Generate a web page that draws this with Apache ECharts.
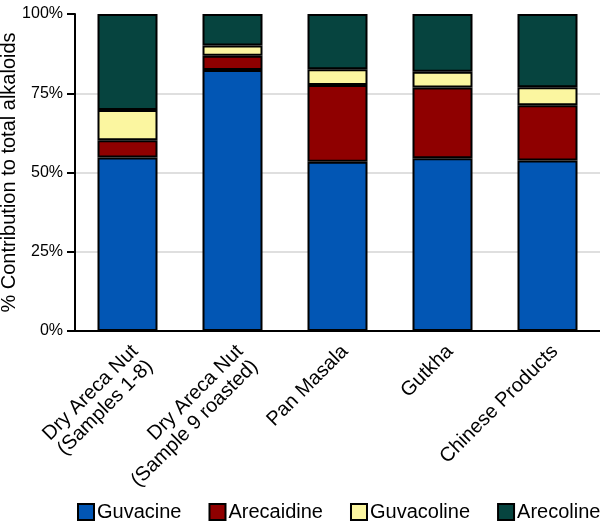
<!DOCTYPE html>
<html>
<head>
<meta charset="utf-8">
<script src="https://cdn.jsdelivr.net/npm/echarts@6/dist/echarts.min.js"></script>
<style>
  html, body { margin: 0; padding: 0; background: #fff; }
  #chart { width: 600px; height: 522px; }
</style>
</head>
<body>
<div id="chart"></div>
<script>
var categories = [
  "Dry Areca Nut\n(Samples 1-8)",
  "Dry Areca Nut\n(Sample 9 roasted)",
  "Pan Masala",
  "Gutkha",
  "Chinese Products"
];
var guvacine = [54.7, 82.3, 53.4, 54.5, 53.8];
var arecaidine = [5.5, 4.5, 24.2, 22.3, 17.4];
var guvacoline = [9.5, 3.3, 5.0, 5.0, 5.7];
var arecoline = [30.3, 9.9, 17.4, 18.2, 23.1];
var yTicks = [0, 25, 50, 75, 100];

var font = "Liberation Sans, Arial, sans-serif";

function makeSeries(name, data, color) {
  return {
    name: name,
    type: "bar",
    stack: "total",
    barWidth: 60,
    data: data,
    itemStyle: {
      color: color,
      borderColor: "#000",
      borderWidth: 2,
    },
  };
}

var myChart = echarts.init(document.getElementById("chart"));
var option = {
  animation: false,
  textStyle: { fontFamily: font, color: "#000" },
  grid: { left: 75, right: 0, top: 14, bottom: 191, outerBoundsMode: "none", containLabel: false },
  legend: {
    left: 72,
    top: 497,
    width: 560,
    itemWidth: 16,
    itemHeight: 16,
    itemGap: 27,
    icon: "rect",
    textStyle: { fontSize: 20, color: "#000", fontFamily: font, padding: [0, 0, 0, -2] },
  },
  xAxis: {
    type: "category",
    data: categories,
    axisLine: { lineStyle: { color: "#000", width: 2 } },
    axisTick: { show: false },
    axisLabel: {
      interval: 0,
      rotate: 45,
      align: "right",
      verticalAlign: "top",
      margin: 10,
      fontSize: 20,
      lineHeight: 21,
      color: "#000",
      fontFamily: font,
    },
  },
  yAxis: {
    type: "value",
    min: yTicks[0],
    max: yTicks[yTicks.length - 1],
    interval: 25,
    name: "% Contribution to total alkaloids",
    nameLocation: "middle",
    nameRotate: 90,
    nameGap: 56,
    nameMoveOverlap: false,
    nameTextStyle: { fontSize: 20, color: "#000", fontFamily: font },
    axisLine: { show: true, lineStyle: { color: "#000", width: 2 } },
    axisTick: { show: true, length: 8, lineStyle: { color: "#000", width: 2 } },
    axisLabel: {
      formatter: "{value}%",
      fontSize: 16,
      margin: 12,
      color: "#000",
      fontFamily: font,
    },
    splitLine: {
      show: true,
      showMaxLine: false,
      lineStyle: { color: "#d4d4d4", width: 1.5 },
    },
  },
  series: [
    makeSeries("Guvacine", guvacine, "#0256b4"),
    makeSeries("Arecaidine", arecaidine, "#8f0000"),
    makeSeries("Guvacoline", guvacoline, "#fbf6a0"),
    makeSeries("Arecoline", arecoline, "#06443f"),
  ],
};
myChart.setOption(option);
</script>
</body>
</html>
